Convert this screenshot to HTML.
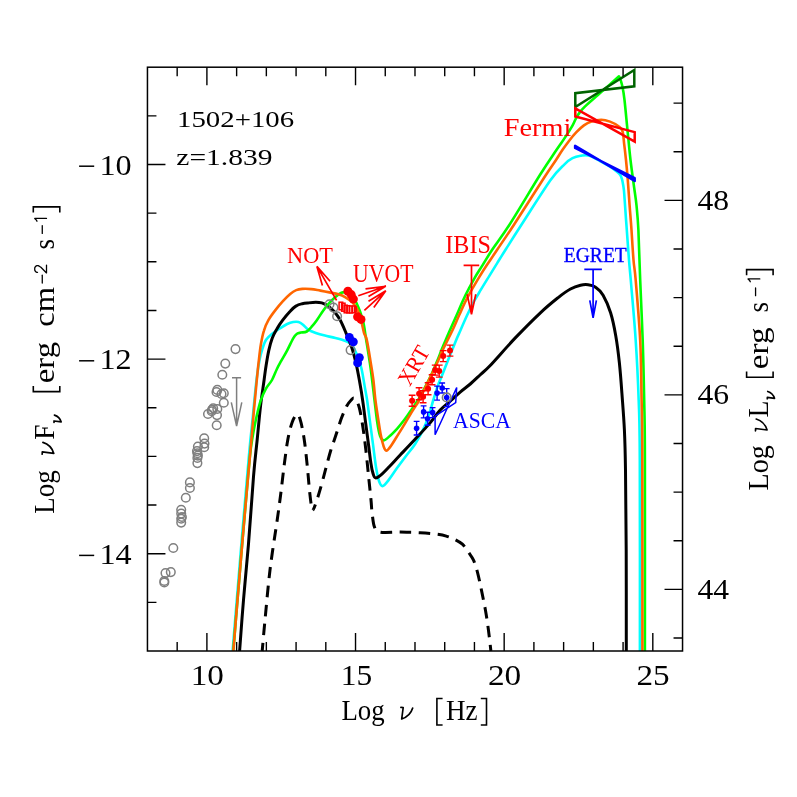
<!DOCTYPE html>
<html><head><meta charset="utf-8"><title>SED 1502+106</title>
<style>html,body{margin:0;padding:0;background:#fff}svg{display:block}</style></head>
<body>
<svg width="797" height="797" viewBox="0 0 797 797">
<rect width="797" height="797" fill="#fff"/>
<g fill="none" stroke-linejoin="round">
<path d="M232.6 651.0 C234.1 633.3 238.6 577.7 241.3 545.0 C244.0 512.3 247.1 476.7 249.0 455.0 C250.9 433.3 251.8 427.5 253.0 415.0 C254.2 402.5 255.4 389.2 256.5 380.0 C257.6 370.8 258.5 365.2 259.5 360.0 C260.5 354.8 261.3 352.2 262.4 348.8 C263.5 345.4 264.5 342.3 266.1 339.8 C267.7 337.3 269.9 335.7 272.2 333.8 C274.5 331.9 277.2 330.1 279.7 328.5 C282.2 326.9 284.9 325.1 287.2 324.0 C289.4 322.9 291.3 322.3 293.2 322.0 C295.1 321.7 296.9 321.6 298.5 322.0 C300.1 322.4 301.4 323.4 303.0 324.7 C304.6 326.0 306.2 328.2 308.3 329.6 C310.4 331.0 313.0 332.0 315.8 333.0 C318.6 334.0 321.6 334.8 324.9 335.6 C328.2 336.4 331.9 337.1 335.4 338.0 C338.8 338.9 342.8 339.9 345.6 341.1 C348.4 342.3 350.1 342.7 352.0 345.0 C353.9 347.3 355.4 351.1 357.0 355.0 C358.6 358.9 360.0 362.5 361.4 368.2 C362.8 373.9 364.2 384.0 365.2 389.3 C366.1 394.6 366.3 394.4 367.1 400.0 C367.9 405.6 369.1 415.1 370.1 422.6 C371.1 430.1 372.1 437.7 373.1 445.2 C374.1 452.7 375.1 461.8 376.1 467.8 C377.1 473.8 378.0 478.2 379.1 481.3 C380.2 484.4 381.0 486.2 382.5 486.1 C384.0 486.0 385.8 483.7 388.2 480.6 C390.6 477.6 394.2 472.0 397.2 467.8 C400.2 463.6 403.2 459.7 406.2 455.7 C409.2 451.7 412.3 448.5 415.3 443.7 C418.3 438.9 421.8 432.6 424.3 427.1 C426.8 421.6 428.8 415.0 430.3 410.5 C431.8 406.0 432.0 404.2 433.3 400.0 C434.6 395.8 436.6 389.2 438.1 385.0 C439.6 380.8 439.3 382.3 442.2 375.0 C445.1 367.7 452.5 348.9 455.6 341.4 C458.7 333.9 458.7 334.4 460.6 330.0 C462.5 325.6 464.9 320.1 467.1 315.3 C469.4 310.5 471.8 305.6 474.1 301.2 C476.5 296.8 478.7 293.4 481.2 289.2 C483.7 285.0 486.5 280.5 489.2 276.1 C491.9 271.8 494.4 267.6 497.2 263.1 C500.0 258.6 502.2 255.0 506.0 249.0 C509.8 243.0 512.6 238.4 520.0 227.0 C527.4 215.6 543.0 190.8 550.4 180.3 C557.8 169.9 560.8 168.0 564.5 164.3 C568.2 160.6 569.8 159.6 572.5 158.2 C575.2 156.8 577.9 156.2 580.6 155.8 C583.3 155.4 585.4 154.7 588.6 155.6 C591.8 156.5 596.1 158.9 600.0 161.0 C603.9 163.1 608.6 165.6 612.0 168.0 C615.4 170.4 618.6 172.2 620.5 175.4 C622.4 178.6 622.8 183.1 623.5 187.0 C624.2 190.9 624.2 193.9 624.6 199.0 C625.0 204.1 625.5 212.6 625.9 217.8 C626.3 223.0 626.3 223.0 626.8 230.0 C627.3 237.0 628.3 250.8 629.0 260.0 C629.7 269.2 630.1 271.6 631.2 285.0 C632.3 298.4 634.5 321.2 635.7 340.5 C637.0 359.8 638.0 380.8 638.7 400.7 C639.4 420.6 639.6 418.3 639.8 460.0 C640.0 501.7 639.9 619.2 639.9 651.0" stroke="#00ffff" stroke-width="2.6"/>
<path d="M239.6 651.0 C240.2 642.5 242.0 617.7 243.5 600.0 C245.0 582.3 246.7 565.6 248.4 545.0 C250.1 524.4 252.1 493.9 253.5 476.6 C254.9 459.4 255.8 453.2 257.0 441.5 C258.2 429.8 259.3 416.6 260.5 406.3 C261.7 396.1 263.2 386.8 264.1 380.0 C265.0 373.2 265.3 370.3 266.1 365.4 C266.9 360.4 267.8 354.8 268.8 350.3 C269.8 345.8 270.9 341.8 272.2 338.3 C273.5 334.8 274.9 332.3 276.7 329.3 C278.4 326.3 280.4 323.2 282.7 320.2 C284.9 317.2 287.9 313.6 290.2 311.2 C292.4 308.8 294.2 307.1 296.2 305.9 C298.2 304.6 300.3 304.2 302.3 303.7 C304.3 303.2 306.1 303.1 308.3 302.9 C310.6 302.6 313.6 302.2 315.8 302.2 C318.1 302.2 319.8 302.3 321.8 302.9 C323.8 303.5 325.9 304.5 327.9 305.9 C329.9 307.3 331.9 308.9 333.9 311.2 C335.9 313.5 337.9 316.0 339.9 319.5 C341.8 323.0 343.7 327.4 345.6 332.0 C347.6 336.6 349.9 341.8 351.6 347.1 C353.4 352.4 354.7 357.7 356.1 363.7 C357.5 369.7 358.8 377.1 359.9 383.2 C361.0 389.2 361.7 393.4 362.6 400.0 C363.6 406.6 364.6 415.1 365.6 422.6 C366.6 430.1 367.7 438.4 368.6 445.2 C369.5 452.0 370.1 458.4 370.9 463.2 C371.6 468.0 372.3 471.3 373.1 473.8 C373.9 476.3 374.3 478.0 375.8 478.0 C377.3 478.0 379.9 475.8 382.2 473.8 C384.5 471.8 386.7 469.3 389.7 466.2 C392.7 463.1 395.9 459.5 400.2 455.0 C404.5 450.5 410.3 444.5 415.3 439.1 C420.3 433.7 426.2 427.4 430.3 422.6 C434.4 417.8 436.9 413.7 440.2 410.1 C443.5 406.5 446.9 404.1 450.2 401.1 C453.5 398.1 456.8 395.0 460.2 392.1 C463.6 389.2 467.0 386.9 470.3 384.0 C473.6 381.1 476.7 378.1 480.0 375.0 C483.3 371.9 484.3 371.7 490.2 365.5 C496.1 359.3 506.9 346.7 515.3 337.9 C523.7 329.1 533.3 319.5 540.4 312.8 C547.5 306.1 552.9 301.8 557.9 297.8 C562.9 293.8 566.7 291.1 570.5 289.0 C574.3 286.9 577.6 285.9 580.5 285.2 C583.4 284.5 585.6 284.4 588.1 284.7 C590.6 285.0 593.1 285.4 595.6 287.2 C598.1 288.9 600.6 290.9 603.1 295.2 C605.6 299.5 608.5 306.1 610.6 312.8 C612.7 319.5 614.2 327.0 615.7 335.4 C617.2 343.8 618.4 353.4 619.4 363.0 C620.4 372.6 621.1 381.9 621.9 393.1 C622.7 404.3 623.8 417.2 624.4 430.0 C625.0 442.8 625.2 450.0 625.5 470.0 C625.8 490.0 626.1 519.8 626.2 550.0 C626.3 580.2 626.3 634.2 626.3 651.0" stroke="#000" stroke-width="3"/>
<path id="d1" d="M262.2 651.0 C262.7 645.8 263.7 633.5 265.0 620.0 C266.3 606.5 268.0 586.7 270.0 570.0 C272.0 553.3 275.4 532.6 277.2 520.0 C279.0 507.4 279.5 503.5 280.7 494.2 C281.9 484.9 283.1 473.4 284.3 464.3 C285.5 455.2 286.5 446.7 287.8 439.7 C289.1 432.7 290.6 426.4 292.2 422.2 C293.8 418.0 295.9 414.3 297.4 414.3 C298.8 414.3 299.7 417.7 300.9 422.2 C302.1 426.7 303.5 434.5 304.5 441.5 C305.5 448.5 306.2 455.8 307.1 464.3 C308.0 472.8 308.9 485.1 309.7 492.4 C310.5 499.7 311.2 505.3 311.8 508.2 C312.4 511.1 312.5 510.5 313.2 509.6" stroke="#000" stroke-width="3" stroke-dasharray="11.5 7.5" stroke-dashoffset="3"/>
<path id="d2" d="M313.2 509.6 C313.9 508.7 314.7 506.4 315.9 503.0 C317.1 499.6 318.7 494.5 320.3 488.9 C321.9 483.3 323.8 476.0 325.5 469.6 C327.2 463.2 329.0 456.2 330.8 450.3 C332.6 444.4 334.4 439.8 336.1 434.5 C337.9 429.2 339.6 423.3 341.3 418.6 C343.1 413.9 345.0 409.4 346.6 406.3 C348.2 403.2 349.7 401.5 351.0 400.2 C352.3 398.9 353.2 397.4 354.5 398.4 C355.8 399.4 357.6 402.1 358.9 406.3 C360.2 410.6 361.2 416.6 362.4 423.9 C363.6 431.2 364.9 441.5 365.9 450.3 C366.9 459.1 367.8 468.3 368.6 476.6 C369.5 484.9 370.4 494.1 371.0 500.0 C371.6 505.9 371.4 507.5 372.0 512.0 C372.6 516.5 373.1 523.8 374.5 527.1 C375.9 530.5 375.8 531.3 380.1 532.1 C384.4 532.9 393.5 532.0 400.2 532.1 C406.9 532.2 414.2 532.4 420.2 532.7 C426.2 533.0 431.9 533.5 436.3 534.1 C440.7 534.7 443.3 535.2 446.3 536.1 C449.3 537.0 451.7 537.9 454.4 539.2 C457.1 540.6 460.1 542.0 462.4 544.2 C464.7 546.4 466.5 549.5 468.4 552.2 C470.2 554.9 472.0 556.9 473.5 560.2 C475.0 563.6 476.2 567.3 477.5 572.3 C478.8 577.3 480.2 584.0 481.5 590.4 C482.8 596.8 484.3 603.7 485.5 610.4 C486.7 617.1 487.6 623.7 488.5 630.5 C489.4 637.3 490.5 647.6 490.9 651.0" stroke="#000" stroke-width="3" stroke-dasharray="11.5 7.5" stroke-dashoffset="5.7"/>
<path d="M233.3 651.0 C234.0 642.5 236.0 617.7 237.5 600.0 C239.0 582.3 240.7 561.7 242.1 545.0 C243.5 528.3 244.7 514.9 246.0 500.0 C247.3 485.1 248.9 465.8 250.0 455.5 C251.1 445.2 251.4 444.1 252.4 438.0 C253.4 431.9 254.8 424.8 256.1 418.6 C257.5 412.5 258.9 406.1 260.5 401.1 C262.1 396.1 263.9 392.3 265.8 388.8 C267.7 385.3 270.2 383.3 272.0 380.0 C273.8 376.7 275.3 372.4 276.8 369.2 C278.3 366.0 279.5 364.0 281.2 360.9 C282.9 357.8 285.2 354.1 287.2 350.3 C289.2 346.5 291.6 341.1 293.2 338.3 C294.8 335.6 295.7 334.8 297.0 333.8 C298.3 332.9 299.2 333.0 300.8 332.6 C302.4 332.2 304.9 332.6 306.8 331.5 C308.7 330.4 310.4 328.2 312.1 326.2 C313.9 324.2 315.4 322.1 317.3 319.5 C319.2 316.9 321.3 313.2 323.3 310.4 C325.3 307.6 327.4 305.1 329.4 302.9 C331.4 300.6 333.4 298.6 335.4 296.9 C337.4 295.2 339.6 293.6 341.4 292.8 C343.1 292.1 344.3 291.9 345.9 292.4 C347.5 292.9 349.2 294.3 351.0 296.0 C352.8 297.7 354.4 298.6 356.4 302.7 C358.4 306.8 361.3 314.1 362.9 320.3 C364.5 326.5 364.9 332.1 366.2 340.0 C367.5 347.9 369.2 358.0 370.6 368.0 C372.0 378.0 373.4 390.9 374.5 400.0 C375.6 409.1 376.4 416.6 377.3 422.6 C378.2 428.6 379.0 433.1 380.1 436.1 C381.2 439.1 382.0 440.5 383.8 440.4 C385.6 440.2 388.5 437.1 390.7 435.2 C392.9 433.3 394.9 431.2 397.0 428.9 C399.1 426.6 401.1 424.0 403.2 421.3 C405.3 418.6 407.7 415.1 409.5 412.6 C411.3 410.1 412.6 408.2 413.9 406.3 C415.2 404.4 415.9 403.4 417.2 401.3 C418.5 399.2 419.2 398.4 421.5 394.0 C423.8 389.6 428.5 380.7 431.2 375.0 C433.9 369.3 435.7 364.6 437.6 360.0 C439.5 355.4 440.4 352.6 442.5 347.6 C444.6 342.6 447.6 335.4 450.0 330.0 C452.4 324.6 454.4 320.3 456.6 315.3 C458.8 310.3 461.0 304.7 463.1 300.2 C465.2 295.7 467.1 292.0 469.1 288.2 C471.1 284.4 472.9 281.0 475.1 277.1 C477.4 273.2 479.8 269.6 482.6 265.1 C485.4 260.6 487.6 256.7 492.0 250.0 C496.4 243.3 501.2 237.6 509.3 225.0 C517.4 212.4 532.5 186.8 540.4 174.3 C548.2 161.8 552.3 156.2 556.4 150.0 C560.5 143.8 562.4 141.5 565.1 137.4 C567.8 133.3 570.8 128.6 572.6 125.4 C574.4 122.2 574.8 120.5 576.0 118.3 C577.2 116.0 578.6 113.9 580.1 111.9 C581.6 109.9 582.2 109.2 585.1 106.4 C588.0 103.6 593.4 99.0 597.6 95.3 C601.8 91.6 606.6 87.3 610.2 84.1 C613.8 80.9 617.5 77.6 619.0 76.3 L619.0 76.3 C619.3 76.9 620.0 78.0 620.6 80.0 C621.2 82.0 622.1 84.7 622.7 88.0 C623.4 91.3 623.7 93.0 624.5 100.0 C625.3 107.0 626.5 120.1 627.5 130.1 C628.5 140.1 629.4 150.6 630.5 160.0 C631.6 169.4 633.0 178.9 634.0 186.5 C635.0 194.1 635.8 198.1 636.5 205.3 C637.2 212.6 637.8 217.5 638.4 230.0 C639.0 242.5 639.5 261.8 640.2 280.2 C640.9 298.6 642.0 320.4 642.7 340.5 C643.4 360.6 643.8 380.8 644.2 400.7 C644.6 420.6 644.8 418.3 644.9 460.0 C645.0 501.7 644.9 619.2 644.9 651.0" stroke="#00ff00" stroke-width="2.6"/>
<path d="M233.3 651.0 C234.0 642.5 236.0 617.7 237.5 600.0 C239.0 582.3 240.7 561.7 242.1 545.0 C243.5 528.3 244.7 514.9 246.0 500.0 C247.3 485.1 248.8 469.6 250.0 455.5 C251.2 441.4 252.4 427.7 253.5 415.1 C254.6 402.5 256.0 388.8 256.8 380.0 C257.7 371.2 257.9 368.3 258.6 362.4 C259.3 356.4 260.0 349.6 260.9 344.3 C261.8 339.0 262.6 334.8 263.9 330.8 C265.1 326.8 266.5 323.6 268.4 320.2 C270.3 316.8 272.8 313.5 275.2 310.4 C277.6 307.3 280.2 304.1 282.7 301.4 C285.2 298.6 287.9 295.8 290.2 293.9 C292.4 292.0 294.2 290.9 296.2 290.1 C298.2 289.3 299.8 289.1 302.3 288.9 C304.8 288.7 308.3 288.8 311.3 289.1 C314.3 289.4 317.3 290.1 320.3 290.6 C323.3 291.2 326.4 291.8 329.4 292.4 C332.4 293.0 335.8 293.5 338.4 294.3 C341.0 295.1 342.7 295.7 345.1 297.1 C347.5 298.5 350.6 300.5 352.7 302.7 C354.8 304.9 356.2 307.1 357.7 310.3 C359.1 313.5 360.3 317.9 361.4 321.6 C362.4 325.4 363.1 329.8 364.0 332.8 C364.9 335.8 365.6 335.0 366.7 339.6 C367.8 344.2 369.3 353.8 370.4 360.6 C371.5 367.4 372.6 373.6 373.4 380.2 C374.2 386.8 374.7 394.2 375.4 400.0 C376.1 405.8 376.7 409.3 377.6 415.1 C378.5 420.9 379.7 429.3 380.7 434.6 C381.7 439.9 382.8 444.0 383.7 446.7 C384.6 449.4 385.4 450.5 386.4 450.7 C387.3 450.9 388.5 448.9 389.4 448.0 C390.3 447.1 390.3 446.9 391.6 445.0 C392.9 443.1 395.1 439.5 397.0 436.4 C398.9 433.3 401.1 429.8 403.2 426.4 C405.3 422.9 407.4 419.1 409.5 415.7 C411.6 412.2 414.2 408.2 415.8 405.7 C417.4 403.2 416.3 405.7 418.9 400.6 C421.5 395.5 428.1 381.8 431.4 375.0 C434.7 368.2 436.4 364.6 438.5 360.0 C440.6 355.4 441.4 352.6 443.8 347.6 C446.2 342.6 450.1 335.4 452.6 330.0 C455.2 324.6 456.9 320.1 459.1 315.3 C461.3 310.5 463.4 305.6 465.6 301.2 C467.8 296.8 469.8 293.2 472.1 289.2 C474.4 285.2 476.7 281.2 479.2 277.1 C481.7 273.0 484.2 269.0 487.2 264.5 C490.2 260.0 492.6 256.6 497.0 250.0 C501.4 243.4 505.9 237.1 513.8 225.0 C521.7 212.9 537.4 188.1 544.4 177.3 C551.4 166.5 553.0 164.6 556.0 160.0 C559.0 155.4 560.3 153.1 562.4 150.0 C564.5 146.9 566.5 144.2 568.8 141.2 C571.1 138.2 573.9 134.8 576.4 132.2 C578.9 129.6 581.4 127.2 583.9 125.4 C586.4 123.6 588.5 122.5 591.4 121.6 C594.3 120.6 598.1 119.7 601.2 119.7 C604.3 119.7 607.1 120.5 610.0 121.6 C612.9 122.7 616.7 124.7 618.8 126.4 C620.9 128.1 621.7 128.5 622.6 131.6 C623.5 134.7 623.7 140.5 624.3 145.2 C624.9 149.9 625.4 154.2 626.0 160.0 C626.6 165.8 627.2 172.6 627.8 180.2 C628.4 187.8 629.0 197.0 629.6 205.3 C630.2 213.6 630.9 220.9 631.5 230.0 C632.1 239.1 632.8 251.6 633.5 260.0 C634.2 268.4 634.6 266.8 635.7 280.2 C636.8 293.6 639.2 320.5 640.2 340.5 C641.2 360.5 641.2 380.1 641.6 400.0 C642.0 419.9 642.2 418.2 642.3 460.0 C642.4 501.8 642.4 619.2 642.4 651.0" stroke="#ff6600" stroke-width="2.6"/>
</g>
<rect x="0" y="651.8" width="797" height="20" fill="#fff"/>
<g fill="none" stroke="#7f7f7f" stroke-width="1.5">
<circle cx="235.5" cy="349.1" r="4.3"/>
<circle cx="225.3" cy="363.6" r="4.3"/>
<circle cx="222.3" cy="374.7" r="4.3"/>
<circle cx="217.3" cy="389.9" r="4.3"/>
<circle cx="216.5" cy="392.0" r="4.3"/>
<circle cx="221.5" cy="394.0" r="4.3"/>
<circle cx="223.8" cy="393.2" r="4.3"/>
<circle cx="223.8" cy="402.7" r="4.3"/>
<circle cx="213.2" cy="408.3" r="4.3"/>
<circle cx="212.0" cy="409.8" r="4.3"/>
<circle cx="211.7" cy="411.3" r="4.3"/>
<circle cx="217.3" cy="409.0" r="4.3"/>
<circle cx="208.0" cy="414.0" r="4.3"/>
<circle cx="217.0" cy="415.1" r="4.3"/>
<circle cx="216.7" cy="425.2" r="4.3"/>
<circle cx="204.2" cy="438.3" r="4.3"/>
<circle cx="204.5" cy="443.6" r="4.3"/>
<circle cx="204.2" cy="447.3" r="4.3"/>
<circle cx="197.9" cy="446.6" r="4.3"/>
<circle cx="197.0" cy="451.1" r="4.3"/>
<circle cx="197.4" cy="453.3" r="4.3"/>
<circle cx="197.9" cy="455.6" r="4.3"/>
<circle cx="197.4" cy="457.9" r="4.3"/>
<circle cx="197.4" cy="463.1" r="4.3"/>
<circle cx="189.9" cy="482.4" r="4.3"/>
<circle cx="189.9" cy="488.0" r="4.3"/>
<circle cx="185.8" cy="497.8" r="4.3"/>
<circle cx="181.2" cy="509.8" r="4.3"/>
<circle cx="181.2" cy="513.6" r="4.3"/>
<circle cx="181.9" cy="517.0" r="4.3"/>
<circle cx="181.2" cy="518.8" r="4.3"/>
<circle cx="181.2" cy="522.6" r="4.3"/>
<circle cx="173.3" cy="548.0" r="4.3"/>
<circle cx="170.8" cy="572.1" r="4.3"/>
<circle cx="165.5" cy="573.1" r="4.3"/>
<circle cx="164.3" cy="581.0" r="4.3"/>
<circle cx="164.3" cy="582.5" r="4.3"/>
<circle cx="329.5" cy="304.2" r="4.3"/>
<circle cx="333.5" cy="307.6" r="4.3"/>
<circle cx="337.1" cy="316.2" r="4.3"/>
<circle cx="350.6" cy="350.1" r="4.3"/>
<path d="M232 377.7H241.1M236.6 377.7V426.1M231.3 402.3L236.6 426.1L241.8 402.3"/>
</g>
<g fill="none" stroke="#ff0000" stroke-width="1.5">
<rect x="339.1" y="302.2" width="3.6" height="7.6"/>
<rect x="341.6" y="303.2" width="3.4" height="8.0"/>
<rect x="344.2" y="305.2" width="3.0" height="7.6"/>
<rect x="346.9" y="305.7" width="2.8" height="7.2"/>
<rect x="349.2" y="306.0" width="2.8" height="7.0"/>
<rect x="352.3" y="306.0" width="2.8" height="6.8"/>
<rect x="354.4" y="306.5" width="1.8" height="5.5"/>
</g>
<g fill="#ff0000">
<circle cx="347.9" cy="291.2" r="4.5"/>
<circle cx="351.2" cy="294.6" r="4.5"/>
<circle cx="353.4" cy="299.1" r="4.5"/>
<circle cx="357.6" cy="316.8" r="4.5"/>
<circle cx="361.0" cy="319.4" r="4.5"/>
</g>
<g fill="#0000ff">
<circle cx="349.4" cy="337.3" r="4.4"/>
<circle cx="353.4" cy="341.8" r="4.4"/>
<circle cx="359.4" cy="357.6" r="4.4"/>
<circle cx="357.6" cy="362.9" r="4.4"/>
</g>
<g stroke="#ff0000" stroke-width="1.4" fill="#ff0000">
<path d="M412.1 395.2V406.2M408.7 395.2H415.5M408.7 406.2H415.5" fill="none"/>
<circle cx="412.1" cy="400.7" r="3.0" stroke="none"/>
<path d="M419.1 387.7V399.7M415.7 387.7H422.5M415.7 399.7H422.5" fill="none"/>
<circle cx="419.1" cy="393.7" r="3.0" stroke="none"/>
<path d="M423.1 390.7V402.7M419.7 390.7H426.5M419.7 402.7H426.5" fill="none"/>
<circle cx="423.1" cy="396.7" r="3.0" stroke="none"/>
<path d="M428.1 382.7V394.7M424.7 382.7H431.5M424.7 394.7H431.5" fill="none"/>
<circle cx="428.1" cy="388.7" r="3.0" stroke="none"/>
<path d="M432.1 374.7V384.7M428.7 374.7H435.5M428.7 384.7H435.5" fill="none"/>
<circle cx="432.1" cy="379.7" r="3.0" stroke="none"/>
<path d="M435.2 365.1V375.1M431.8 365.1H438.6M431.8 375.1H438.6" fill="none"/>
<circle cx="435.2" cy="370.1" r="3.0" stroke="none"/>
<path d="M439.2 365.1V377.1M435.8 365.1H442.6M435.8 377.1H442.6" fill="none"/>
<circle cx="439.2" cy="371.1" r="3.0" stroke="none"/>
<path d="M443.2 350.6V361.6M439.8 350.6H446.6M439.8 361.6H446.6" fill="none"/>
<circle cx="443.2" cy="356.1" r="3.0" stroke="none"/>
<path d="M450.0 345.1V356.1M446.6 345.1H453.4M446.6 356.1H453.4" fill="none"/>
<circle cx="450.0" cy="350.6" r="3.0" stroke="none"/>
</g>
<g stroke="#0000ff" stroke-width="1.4" fill="#0000ff">
<path d="M416.6 421.4V435.0M413.7 421.4H419.5M413.7 435.0H419.5" fill="none"/>
<circle cx="416.6" cy="428.2" r="2.8" stroke="none"/>
<path d="M423.6 405.9V417.9M420.7 405.9H426.5M420.7 417.9H426.5" fill="none"/>
<circle cx="423.6" cy="411.9" r="2.8" stroke="none"/>
<path d="M427.6 412.2V425.2M424.7 412.2H430.5M424.7 425.2H430.5" fill="none"/>
<circle cx="427.6" cy="418.7" r="2.8" stroke="none"/>
<path d="M432.6 407.6V417.6M429.7 407.6H435.5M429.7 417.6H435.5" fill="none"/>
<circle cx="432.6" cy="412.6" r="2.8" stroke="none"/>
<path d="M437.1 386.1V400.1M434.2 386.1H440.0M434.2 400.1H440.0" fill="none"/>
<circle cx="437.1" cy="393.1" r="2.8" stroke="none"/>
<path d="M442.2 383.0V393.0M439.3 383.0H445.1M439.3 393.0H445.1" fill="none"/>
<circle cx="442.2" cy="388.0" r="2.8" stroke="none"/>
<path d="M446.7 388.6V406.6M443.8 388.6H449.6M443.8 406.6H449.6" fill="none"/>
<circle cx="446.7" cy="397.6" r="2.8" stroke="none"/>
<path d="M435.1 416.2V434.7L456.7 387.5L455.7 402.6Z" fill="none" stroke-width="1.5" stroke-linejoin="miter"/>
</g>
<circle cx="446.7" cy="397.4" r="4.3" fill="none" stroke="#7f7f7f" stroke-width="1.6"/>
<g fill="none" stroke="#ff0000" stroke-width="1.7">
<path d="M336.6 300.4L316.9 266.4M330.1 281.3L316.9 266.4L322.4 285.6"/>
<path d="M358.3 295.7L385.8 286.3M365.5 288.9L385.8 286.3L368.5 296.5"/>
<path d="M364.4 310.4L385.8 290.8M368.5 301.3L385.8 290.8L373.8 307.4"/>
<path d="M463.6 265.4H479.2M471.5 265.4V314.2M467.1 294.2L471.5 314.2L475.8 294.2"/>
</g>
<g fill="none" stroke="#0000ff" stroke-width="1.7">
<path d="M584.3 269.4H601.9M593.1 269.4V317.8M589.8 300.3L593.1 317.8L596.4 300.3"/>
</g>
<g fill="none" stroke-width="2.5" stroke-linejoin="miter">
<path d="M575.3 93.2V107.1L634.3 70V86.3Z" stroke="#006400"/>
<path d="M575.3 108.3V116.5L634.7 132.1V141.6Z" stroke="#ff0000"/>
<path d="M575.1 145.8V148L634.7 178.2V181Z" stroke="#0000ff" fill="#0000ff" stroke-linejoin="round"/>
</g>
<g fill="none" stroke="#000" stroke-width="1.5">
<rect x="147.45" y="67.20" width="535.09" height="583.80"/>
<path d="M177.17 67.20v9.0M177.17 651.00v-9.0M206.90 67.20v18.0M206.90 651.00v-18.0M236.63 67.20v9.0M236.63 651.00v-9.0M266.35 67.20v9.0M266.35 651.00v-9.0M296.08 67.20v9.0M296.08 651.00v-9.0M325.81 67.20v9.0M325.81 651.00v-9.0M355.53 67.20v18.0M355.53 651.00v-18.0M385.26 67.20v9.0M385.26 651.00v-9.0M414.99 67.20v9.0M414.99 651.00v-9.0M444.72 67.20v9.0M444.72 651.00v-9.0M474.44 67.20v9.0M474.44 651.00v-9.0M504.17 67.20v18.0M504.17 651.00v-18.0M533.90 67.20v9.0M533.90 651.00v-9.0M563.62 67.20v9.0M563.62 651.00v-9.0M593.35 67.20v9.0M593.35 651.00v-9.0M623.08 67.20v9.0M623.08 651.00v-9.0M652.81 67.20v18.0M652.81 651.00v-18.0M147.45 602.35h9.0M147.45 553.70h18.0M147.45 505.05h9.0M147.45 456.40h9.0M147.45 407.75h9.0M147.45 359.10h18.0M147.45 310.45h9.0M147.45 261.80h9.0M147.45 213.15h9.0M147.45 164.50h18.0M147.45 115.85h9.0M682.53 638.02h-9.0M682.53 589.40h-18.0M682.53 540.77h-9.0M682.53 492.15h-9.0M682.53 443.52h-9.0M682.53 394.90h-18.0M682.53 346.27h-9.0M682.53 297.65h-9.0M682.53 249.03h-9.0M682.53 200.40h-18.0M682.53 151.78h-9.0M682.53 103.15h-9.0" stroke-width="1.4"/>
</g>
<g font-family="'Liberation Serif', serif" opacity="0.999">
<text x="190.7" y="684.9" font-size="28.4" fill="#000" textLength="33.2" lengthAdjust="spacingAndGlyphs" >10</text>
<text x="340.8" y="684.9" font-size="28.4" fill="#000" textLength="31.4" lengthAdjust="spacingAndGlyphs" >15</text>
<text x="487.9" y="684.9" font-size="28.4" fill="#000" textLength="33.3" lengthAdjust="spacingAndGlyphs" >20</text>
<text x="636.5" y="684.9" font-size="28.4" fill="#000" textLength="33.2" lengthAdjust="spacingAndGlyphs" >25</text>
<path d="M79.1 166.2H94.2" stroke="#000" stroke-width="1.5" fill="none"/>
<text x="99.4" y="174.5" font-size="28.4" fill="#000" textLength="32.2" lengthAdjust="spacingAndGlyphs" >10</text>
<path d="M79.1 360.8H94.2" stroke="#000" stroke-width="1.5" fill="none"/>
<text x="99.4" y="369.1" font-size="28.4" fill="#000" textLength="32.2" lengthAdjust="spacingAndGlyphs" >12</text>
<path d="M79.1 555.4H94.2" stroke="#000" stroke-width="1.5" fill="none"/>
<text x="99.4" y="563.7" font-size="28.4" fill="#000" textLength="32.2" lengthAdjust="spacingAndGlyphs" >14</text>
<text x="697.5" y="209.9" font-size="28.4" fill="#000" textLength="31.6" lengthAdjust="spacingAndGlyphs" >48</text>
<text x="697.5" y="404.4" font-size="28.4" fill="#000" textLength="31.6" lengthAdjust="spacingAndGlyphs" >46</text>
<text x="697.5" y="598.9" font-size="28.4" fill="#000" textLength="31.6" lengthAdjust="spacingAndGlyphs" >44</text>
<text x="177.0" y="126.5" font-size="23.3" fill="#000" textLength="117.2" lengthAdjust="spacingAndGlyphs" >1502+106</text>
<text x="176.3" y="165.4" font-size="23.3" fill="#000" textLength="96.2" lengthAdjust="spacingAndGlyphs" >z=1.839</text>
<text x="287.1" y="262.6" font-size="24.1" fill="#ff0000" textLength="45.9" lengthAdjust="spacingAndGlyphs" >NOT</text>
<text x="353.1" y="282.0" font-size="24.3" fill="#ff0000" textLength="60.3" lengthAdjust="spacingAndGlyphs" >UVOT</text>
<text x="445.3" y="252.8" font-size="24.4" fill="#ff0000" textLength="45.6" lengthAdjust="spacingAndGlyphs" >IBIS</text>
<text x="503.8" y="136.1" font-size="24.4" fill="#ff0000" textLength="67.6" lengthAdjust="spacingAndGlyphs" >Fermi</text>
<text x="563.8" y="262.3" font-size="20.3" fill="#0000ff" textLength="63.0" lengthAdjust="spacingAndGlyphs" stroke="#0000ff" stroke-width="0.35">EGRET</text>
<text x="453.1" y="427.6" font-size="22.9" fill="#0000ff" textLength="57.8" lengthAdjust="spacingAndGlyphs" >ASCA</text>
<text transform="translate(409.7 387.3) rotate(-60)" font-size="22.6" fill="#ff0000" textLength="41.5" lengthAdjust="spacingAndGlyphs">XRT</text>
<text x="341.4" y="719.5" font-size="29.0" fill="#000" textLength="43.2" lengthAdjust="spacingAndGlyphs" >Log</text>
<path transform="translate(400.9 719.5) rotate(0) scale(1.00)" d="M0 -12.1L2.3 -12L0.8 -0.5C5 -1.8 10 -5.5 11.8 -11.4" fill="none" stroke="#000" stroke-width="1.70" stroke-linejoin="round" stroke-linecap="round"/>
<path transform="translate(436.9 719.5) rotate(0)" d="M5.7 -21H0V5.5H5.7" fill="none" stroke="#000" stroke-width="1.6" stroke-linejoin="miter"/>
<text x="446.0" y="719.5" font-size="29.0" fill="#000" textLength="31.6" lengthAdjust="spacingAndGlyphs" >Hz</text>
<path transform="translate(486.5 719.5) rotate(0)" d="M-5.7 -21H0V5.5H-5.7" fill="none" stroke="#000" stroke-width="1.6" stroke-linejoin="miter"/>
<text transform="translate(54.3 513.7) rotate(-90)" font-size="29.0" textLength="43.4" lengthAdjust="spacingAndGlyphs" >Log</text>
<path transform="translate(54.3 454.2) rotate(-90) scale(1.00)" d="M0 -12.1L2.3 -12L0.8 -0.5C5 -1.8 10 -5.5 11.8 -11.4" fill="none" stroke="#000" stroke-width="1.70" stroke-linejoin="round" stroke-linecap="round"/>
<text transform="translate(54.3 439.8) rotate(-90)" font-size="29.0" textLength="15.2" lengthAdjust="spacingAndGlyphs" >F</text>
<path transform="translate(61.5 422.4) rotate(-90) scale(0.62)" d="M0 -12.1L2.3 -12L0.8 -0.5C5 -1.8 10 -5.5 11.8 -11.4" fill="none" stroke="#000" stroke-width="2.74" stroke-linejoin="round" stroke-linecap="round"/>
<path transform="translate(54.3 391.6) rotate(-90)" d="M5.7 -21H0V5.5H5.7" fill="none" stroke="#000" stroke-width="1.6" stroke-linejoin="miter"/>
<text transform="translate(54.3 383.2) rotate(-90)" font-size="29.0" textLength="41.2" lengthAdjust="spacingAndGlyphs" >erg</text>
<text transform="translate(54.3 326.8) rotate(-90)" font-size="29.0" textLength="39.8" lengthAdjust="spacingAndGlyphs" >cm</text>
<path transform="translate(46.5 285.6) rotate(-90)" d="M2.58 -4.23 L10.34 -4.23" fill="none" stroke="#000" stroke-width="1.3" stroke-linejoin="round" stroke-linecap="round"/>
<path transform="translate(46.5 274.6) rotate(-90)" d="M2.24 -8.96 L2.24 -9.52 L2.80 -10.64 L3.36 -11.20 L4.48 -11.76 L6.72 -11.76 L7.84 -11.20 L8.40 -10.64 L8.96 -9.52 L8.96 -8.40 L8.40 -7.28 L7.28 -5.60 L1.68 0.00 L9.52 0.00" fill="none" stroke="#000" stroke-width="1.3" stroke-linejoin="round" stroke-linecap="round"/>
<text transform="translate(54.3 249.6) rotate(-90)" font-size="29.0" textLength="10.6" lengthAdjust="spacingAndGlyphs" >s</text>
<path transform="translate(46.5 236.0) rotate(-90)" d="M2.58 -4.23 L10.34 -4.23" fill="none" stroke="#000" stroke-width="1.3" stroke-linejoin="round" stroke-linecap="round"/>
<path transform="translate(46.5 224.6) rotate(-90)" d="M3.36 -9.52 L4.48 -10.08 L6.16 -11.76 L6.16 0.00" fill="none" stroke="#000" stroke-width="1.3" stroke-linejoin="round" stroke-linecap="round"/>
<path transform="translate(54.3 206.9) rotate(-90)" d="M-5.7 -21H0V5.5H-5.7" fill="none" stroke="#000" stroke-width="1.6" stroke-linejoin="miter"/>
<text transform="translate(767.6 490.5) rotate(-90)" font-size="29.0" textLength="45.2" lengthAdjust="spacingAndGlyphs" >Log</text>
<path transform="translate(767.6 430.8) rotate(-90) scale(1.00)" d="M0 -12.1L2.3 -12L0.8 -0.5C5 -1.8 10 -5.5 11.8 -11.4" fill="none" stroke="#000" stroke-width="1.70" stroke-linejoin="round" stroke-linecap="round"/>
<text transform="translate(767.6 417.4) rotate(-90)" font-size="29.0" textLength="17.0" lengthAdjust="spacingAndGlyphs" >L</text>
<path transform="translate(774.8 398.8) rotate(-90) scale(0.62)" d="M0 -12.1L2.3 -12L0.8 -0.5C5 -1.8 10 -5.5 11.8 -11.4" fill="none" stroke="#000" stroke-width="2.74" stroke-linejoin="round" stroke-linecap="round"/>
<path transform="translate(767.6 377.2) rotate(-90)" d="M5.7 -21H0V5.5H5.7" fill="none" stroke="#000" stroke-width="1.6" stroke-linejoin="miter"/>
<text transform="translate(767.6 369.3) rotate(-90)" font-size="29.0" textLength="41.9" lengthAdjust="spacingAndGlyphs" >erg</text>
<text transform="translate(767.6 312.4) rotate(-90)" font-size="29.0" textLength="10.6" lengthAdjust="spacingAndGlyphs" >s</text>
<path transform="translate(759.8 298.3) rotate(-90)" d="M2.58 -4.23 L10.34 -4.23" fill="none" stroke="#000" stroke-width="1.3" stroke-linejoin="round" stroke-linecap="round"/>
<path transform="translate(759.8 285.1) rotate(-90)" d="M3.36 -9.52 L4.48 -10.08 L6.16 -11.76 L6.16 0.00" fill="none" stroke="#000" stroke-width="1.3" stroke-linejoin="round" stroke-linecap="round"/>
<path transform="translate(767.6 269.6) rotate(-90)" d="M-5.7 -21H0V5.5H-5.7" fill="none" stroke="#000" stroke-width="1.6" stroke-linejoin="miter"/>
</g>
</svg>
</body></html>
